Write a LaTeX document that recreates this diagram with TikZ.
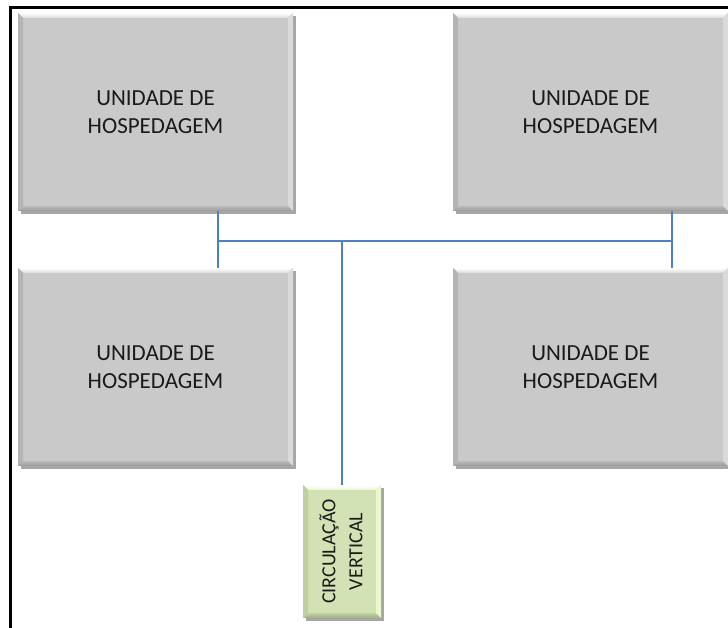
\documentclass[tikz,border=0pt]{standalone}
\usepackage{fontspec}
\setmainfont{Carlito}
\usetikzlibrary{shadows,calc}
\definecolor{unitfill}{HTML}{C9C9C9}
\definecolor{unitdark}{HTML}{9A9A9A}
\definecolor{unitside}{HTML}{B4B4B4}
\definecolor{unitlight}{HTML}{DADADA}
\definecolor{circfill}{HTML}{D3E2B4}
\definecolor{circdark}{HTML}{9DAE7E}
\definecolor{circside}{HTML}{BFD09F}
\definecolor{circlight}{HTML}{EEF6CF}
\definecolor{linkblue}{HTML}{4F81BD}
\definecolor{txt}{HTML}{1A1A1A}
\tikzset{
  bevel/.style n args={4}{
    fill=#1,
    drop shadow={shadow xshift=2.5pt,shadow yshift=-3pt,fill=black,opacity=0.35},
    path picture={
      \coordinate (bNW) at (path picture bounding box.north west);
      \coordinate (bNE) at (path picture bounding box.north east);
      \coordinate (bSW) at (path picture bounding box.south west);
      \coordinate (bSE) at (path picture bounding box.south east);
      % top edge: light highlight
      \shade[top color=white,bottom color=#4]
        (bNW) -- (bNE) -- ($(bNE)+(-5,-5)$) -- ($(bNW)+(5,-5)$) -- cycle;
      % bottom edge: dark
      \shade[top color=#1!70!#2,bottom color=#2]
        (bSW) -- (bSE) -- ($(bSE)+(-5,5)$) -- ($(bSW)+(5,5)$) -- cycle;
      % left edge
      \fill[#3] (bNW) -- ($(bNW)+(5,-5)$) -- ($(bSW)+(5,5)$) -- (bSW) -- cycle;
      % right edge
      \fill[#4] (bNE) -- ($(bNE)+(-5,-5)$) -- ($(bSE)+(-5,5)$) -- (bSE) -- cycle;
    }
  },
  unit/.style={bevel={unitfill}{unitdark}{unitside}{unitlight},
    minimum width=275, minimum height=198, inner sep=0,
    text=txt, align=center, font=\fontsize{23}{28}\selectfont},
  circ/.style={bevel={circfill}{circdark}{circside}{circlight},
    minimum width=78, minimum height=133, inner sep=0},
  link/.style={draw=linkblue, line width=1.3pt},
  frame/.style={line width=3.2pt, black}
}
\begin{document}
\begin{tikzpicture}[x=1pt,y=1pt]
\useasboundingbox (0,0) rectangle (728,628);
% outer frame (top and left only)
\coordinate (fTL) at (10.5,620.5);
\coordinate (fTR) at (728,620.5);
\coordinate (fBL) at (10.5,0);
\draw[frame] (fBL) -- (fTL) -- (fTR);

% guest units
\node[unit] (u1) at (155.5,516) {UNIDADE DE\\HOSPEDAGEM};
\node[unit] (u2) at (590.5,516) {UNIDADE DE\\HOSPEDAGEM};
\node[unit] (u3) at (155.5,261) {UNIDADE DE\\HOSPEDAGEM};
\node[unit] (u4) at (590.5,261) {UNIDADE DE\\HOSPEDAGEM};

% vertical circulation core
\node[circ] (cv) at (342,76.5) {};
\node[rotate=90, align=center, text=txt, font=\fontsize{20}{27}\selectfont] (cvt) at ([xshift=-1]cv.center) {CIRCULAÇÃO\\VERTICAL};

% corridor
\coordinate (jl) at (218,387);
\coordinate (jr) at (672,387);
\coordinate (jc) at (342,387);
\draw[link] (u1.south -| jl) -- (u3.north -| jl);
\draw[link] (u2.south -| jr) -- (u4.north -| jr);
\draw[link] (jl) -- (jr);
\draw[link] (jc) -- (cv.north);
\end{tikzpicture}
\end{document}
